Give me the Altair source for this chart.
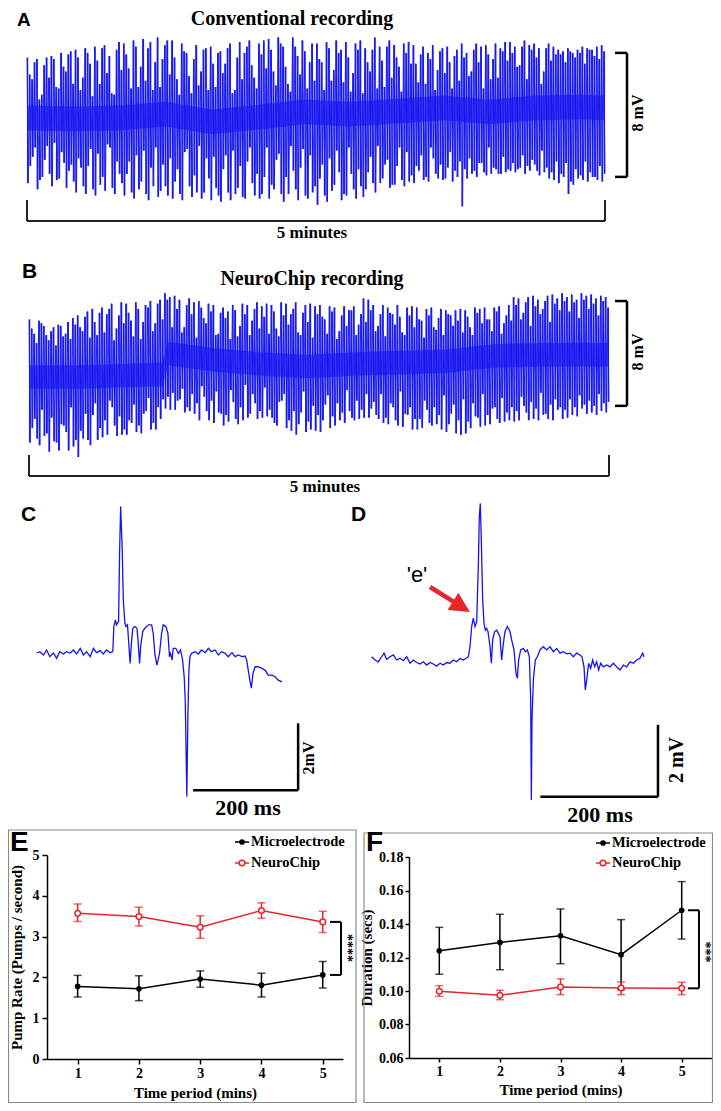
import altair as alt
import pandas as pd

OFF = 8  # page margin
SERIF = "Liberation Serif"
SANS = "Liberation Sans"
BLUE = "#1414f0"
RED = "#e8262a"

# ---------------- A: conventional recording (mV, spike extremes over 5 min) ----------------
# two interleaved sets of spikes, read left to right
a_top = [3.9, 2.5, 3.8, 1.5, 3.9, 4.0, 2.0, 4.2, 3.0, 4.3,
         4.4, 1.8, 4.5, 3.5, 4.6, 2.2, 4.7, 4.0, 1.5, 4.9,
         4.8, 3.2, 5.0, 2.0, 5.1, 4.5, 1.8, 5.2, 3.8, 5.0,
         5.0, 2.5, 4.8, 4.2, 1.6, 4.7, 3.0, 4.5, 4.6, 2.0,
         4.3, 3.5, 4.8, 1.8, 4.9, 4.2, 5.0, 2.6, 4.8, 5.0,
         5.1, 3.0, 5.2, 4.6, 2.2, 5.2, 4.0, 5.0, 1.9, 4.8,
         4.8, 3.6, 4.9, 2.4, 5.0, 4.4, 4.9, 1.7, 4.8, 5.0,
         4.5, 3.0, 5.2, 4.6, 2.0, 5.0, 4.7, 3.3, 4.8, 4.9,
         4.7, 2.3, 4.6, 4.2, 4.7, 3.1, 4.5, 4.6, 1.9, 4.4,
         4.8, 4.2, 3.0, 4.8, 4.6, 4.7, 2.5, 4.8, 4.5, 4.9,
         4.9, 4.6, 3.4, 5.0, 4.7, 4.8, 4.5, 3.0, 4.8, 4.6,
         4.4, 4.3, 4.5, 4.2, 4.4, 4.6, 4.5, 4.4, 4.6, 4.7]
a_bottom = [-4.2, -2.5, -4.6, -3.8, -1.8, -4.4, -4.0, -2.2, -4.5, -3.0,
            -4.8, -3.2, -4.9, -2.0, -5.0, -4.3, -4.7, -1.9, -4.9, -3.6,
            -5.0, -2.8, -5.2, -4.6, -2.1, -5.3, -4.4, -5.1, -3.0, -5.0,
            -5.2, -3.3, -5.3, -2.0, -5.1, -4.8, -5.2, -2.6, -5.3, -4.5,
            -5.4, -2.4, -5.3, -4.9, -3.1, -5.2, -1.9, -5.0, -5.2, -3.8,
            -5.2, -4.6, -2.3, -5.4, -4.9, -3.4, -5.3, -2.0, -5.2, -4.8,
            -5.6, -3.0, -5.4, -4.7, -2.1, -5.3, -5.0, -3.6, -5.2, -4.4,
            -4.6, -2.5, -4.8, -4.2, -3.0, -4.5, -4.3, -1.9, -4.4, -4.1,
            -4.2, -3.4, -4.0, -4.1, -2.6, -3.9, -4.0, -3.2, -4.1, -3.8,
            -5.7, -3.9, -3.6, -3.8, -2.9, -3.7, -3.6, -3.3, -3.6, -3.5,
            -3.4, -3.5, -3.2, -3.6, -3.4, -3.0, -3.7, -3.5, -3.9, -4.0,
            -4.2, -3.8, -4.9, -4.3, -3.9, -4.0, -4.1, -3.8, -4.0, -4.1]
a_top2 = [2.8, 3.6, 1.2, 3.4, 2.6, 3.8, 1.9, 3.3, 4.1, 2.2,
          3.9, 2.6, 4.2, 1.4, 3.7, 4.5, 2.9, 1.6, 4.4, 3.1,
          4.1, 1.9, 4.6, 3.3, 2.4, 4.9, 3.6, 2.0, 4.7, 2.8,
          3.9, 1.5, 4.3, 2.7, 3.8, 2.1, 4.4, 1.8, 3.5, 4.2,
          2.9, 4.5, 1.6, 3.9, 2.5, 4.6, 3.4, 1.9, 4.1, 3.2,
          4.4, 2.1, 4.8, 3.3, 1.7, 4.6, 2.8, 4.3, 3.6, 2.4,
          3.8, 1.8, 4.5, 3.1, 4.2, 2.3, 3.9, 2.9, 4.4, 1.6,
          3.6, 4.4, 1.9, 3.7, 4.6, 2.6, 3.9, 1.7, 4.2, 3.5,
          3.5, 4.1, 2.2, 3.8, 1.8, 4.3, 2.9, 3.6, 4.0, 2.4,
          3.9, 2.7, 4.4, 3.6, 1.9, 4.1, 3.8, 2.6, 4.3, 3.7,
          4.2, 3.3, 4.6, 2.5, 4.4, 3.9, 2.2, 4.5, 3.7, 4.1,
          4.1, 3.6, 4.3, 3.9, 4.2, 3.5, 4.4, 4.0, 3.8, 4.3]
a_bottom2 = [-3.1, -1.9, -4.0, -2.7, -3.6, -1.6, -3.9, -2.9, -3.4, -4.1,
             -2.6, -4.4, -3.1, -4.6, -2.3, -3.8, -1.7, -4.5, -2.8, -4.2,
             -3.6, -4.8, -2.4, -4.1, -4.9, -3.2, -1.9, -4.7, -4.4, -2.6,
             -4.1, -4.9, -2.2, -4.4, -3.7, -1.8, -4.8, -3.9, -2.5, -5.0,
             -3.3, -4.8, -2.1, -4.5, -5.1, -2.8, -4.2, -3.6, -4.9, -1.9,
             -4.3, -2.7, -4.9, -3.8, -1.8, -4.6, -3.2, -5.0, -2.4, -4.4,
             -3.9, -5.0, -2.6, -4.3, -3.5, -4.9, -1.9, -4.6, -3.3, -5.1,
             -3.5, -4.2, -1.8, -3.9, -2.7, -4.3, -3.1, -4.0, -2.2, -3.7,
             -3.1, -2.4, -3.8, -1.9, -3.6, -3.0, -3.9, -2.2, -3.4, -2.8,
             -3.3, -2.6, -3.4, -2.9, -3.5, -1.9, -3.2, -3.6, -2.5, -3.3,
             -2.9, -3.3, -2.4, -3.1, -2.7, -3.4, -2.1, -3.2, -3.5, -2.8,
             -3.6, -2.9, -4.1, -3.3, -3.7, -2.8, -3.5, -3.8, -3.1, -3.6]
a_core_t = [0, 0.4, 0.8, 1.2, 1.6, 2.0, 2.4, 2.8, 3.2, 3.6, 4.0, 4.4, 4.8, 5.0]
a_core_lo = [-0.8, -0.85, -0.8, -0.55, -1.05, -0.75, -0.4, -0.55, -0.35, -0.15, -0.4, -0.15, -0.1, -0.15]
a_core_hi = [0.8, 0.75, 0.8, 1.05, 0.55, 0.85, 1.2, 1.05, 1.25, 1.45, 1.2, 1.45, 1.5, 1.45]
a_bar_mv = [-3.8, 4.2]          # 8 mV calibration
a_span_min = [0, 5]              # 5 minutes

# ---------------- B: NeuroChip recording ----------------
b_top = [3.1, 2.0, 3.0, 2.6, 1.5, 2.5, 2.7, 1.8, 2.9, 3.2,
         3.4, 2.2, 3.7, 3.9, 1.9, 4.0, 3.5, 4.3, 2.4, 4.4,
         4.3, 3.0, 4.4, 1.6, 4.2, 4.5, 2.8, 4.6, 5.1, 4.8,
         4.9, 4.6, 2.5, 4.7, 4.4, 4.5, 3.2, 4.3, 4.2, 2.0,
         4.0, 3.7, 4.2, 1.8, 4.3, 4.2, 3.0, 4.4, 4.1, 4.3,
         4.2, 2.4, 4.4, 4.3, 3.5, 4.4, 1.9, 4.2, 4.3, 4.1,
         4.2, 3.1, 4.1, 4.0, 2.2, 4.1, 3.8, 4.1, 2.7, 4.7,
         4.6, 4.2, 2.6, 4.2, 4.0, 3.5, 4.2, 2.1, 4.0, 4.1,
         4.0, 3.0, 3.9, 4.0, 2.3, 3.9, 3.8, 3.4, 3.8, 3.9,
         3.8, 2.5, 4.0, 3.9, 4.0, 3.1, 4.0, 4.1, 2.8, 4.2,
         4.8, 4.7, 3.6, 4.8, 4.9, 4.6, 3.9, 4.9, 5.0, 4.7,
         5.1, 4.8, 5.0, 4.6, 5.1, 4.9, 5.0, 4.7, 4.9, 4.8]
b_bottom = [-6.3, -4.5, -6.5, -5.8, -7.0, -6.2, -6.9, -5.0, -6.9, -6.6,
            -7.4, -6.0, -6.1, -4.2, -6.1, -5.9, -5.7, -3.6, -5.8, -5.7,
            -5.7, -4.8, -5.5, -5.6, -3.9, -5.3, -5.3, -4.5, -3.7, -3.8,
            -3.8, -3.0, -4.0, -3.9, -4.1, -4.6, -2.8, -4.6, -4.8, -4.0,
            -5.0, -4.7, -3.2, -4.9, -4.6, -4.4, -2.6, -4.5, -4.4, -4.3,
            -4.4, -5.0, -3.1, -5.2, -5.4, -5.7, -4.0, -5.5, -5.3, -5.4,
            -5.5, -3.4, -5.2, -5.0, -4.6, -4.8, -3.9, -4.6, -4.5, -4.4,
            -4.4, -3.2, -4.5, -4.8, -4.9, -3.6, -5.0, -5.1, -4.2, -5.3,
            -5.3, -5.2, -3.8, -5.0, -4.9, -5.3, -5.5, -4.1, -5.6, -5.7,
            -5.6, -5.2, -4.3, -5.1, -5.0, -4.9, -3.6, -4.8, -4.7, -4.6,
            -4.7, -4.6, -3.5, -4.6, -4.5, -4.6, -4.2, -4.5, -4.6, -3.8,
            -4.5, -4.4, -4.2, -4.3, -3.7, -4.1, -4.0, -4.2, -3.9, -4.0]
b_top2 = [2.4, 1.3, 2.8, 1.9, 2.2, 1.1, 2.6, 2.0, 1.6, 2.7,
          2.5, 3.3, 1.7, 2.9, 3.6, 2.1, 3.9, 1.5, 3.4, 2.8,
          3.6, 1.8, 3.9, 2.9, 4.0, 2.2, 4.3, 3.1, 4.6, 2.5,
          3.9, 2.1, 4.2, 3.5, 1.7, 4.0, 2.8, 3.7, 1.9, 3.6,
          3.2, 1.6, 3.8, 2.6, 3.5, 1.9, 3.9, 2.4, 3.3, 2.0,
          3.7, 1.8, 3.4, 2.7, 3.9, 2.1, 3.6, 2.9, 1.7, 3.5,
          3.3, 2.0, 3.7, 1.6, 3.4, 2.6, 3.8, 1.9, 3.5, 2.9,
          3.8, 2.2, 3.5, 1.8, 3.6, 2.7, 3.3, 1.9, 3.4, 2.5,
          3.1, 1.7, 3.4, 2.5, 3.2, 1.9, 3.5, 2.6, 3.0, 2.1,
          3.3, 1.9, 3.6, 2.8, 3.1, 2.2, 3.7, 2.0, 3.4, 3.0,
          4.2, 3.1, 4.4, 2.6, 4.1, 3.5, 4.5, 2.9, 4.3, 3.8,
          4.5, 3.7, 4.4, 3.2, 4.6, 3.9, 4.3, 3.4, 4.5, 4.0]
b_bottom2 = [-5.2, -6.0, -3.8, -5.6, -4.4, -6.3, -4.9, -5.5, -3.6, -6.1,
             -5.4, -4.1, -6.5, -3.3, -5.2, -4.6, -3.1, -5.0, -4.3, -5.3,
             -4.6, -3.4, -5.0, -4.1, -2.9, -4.8, -3.6, -3.0, -2.8, -2.5,
             -3.1, -2.2, -3.6, -2.6, -3.3, -2.0, -3.9, -3.1, -2.4, -4.1,
             -4.2, -2.3, -4.5, -3.6, -1.9, -4.1, -3.3, -3.9, -2.1, -3.8,
             -4.8, -3.2, -2.6, -4.6, -3.9, -4.9, -2.4, -4.7, -3.5, -4.2,
             -4.6, -2.7, -4.3, -3.3, -4.0, -2.3, -4.4, -3.1, -3.8, -2.6,
             -3.7, -4.2, -2.6, -4.4, -3.3, -4.6, -2.4, -4.1, -3.6, -4.5,
             -4.5, -3.1, -4.8, -3.6, -4.2, -2.7, -4.9, -3.4, -4.6, -3.0,
             -4.7, -3.3, -4.4, -2.6, -4.2, -3.7, -4.5, -2.9, -4.0, -3.6,
             -3.9, -2.8, -4.0, -3.2, -3.7, -2.5, -4.1, -3.4, -3.0, -3.6,
             -3.8, -3.0, -3.6, -2.7, -3.4, -3.1, -3.5, -2.6, -3.3, -3.2]
b_core_t = [0, 0.4, 0.8, 1.15, 1.2, 1.6, 2.0, 2.4, 2.8, 3.2, 3.6, 4.0, 4.4, 4.8, 5.0]
b_core_lo = [-2.2, -2.2, -2.1, -2.0, -0.4, -0.9, -1.2, -1.4, -1.2, -1.1, -1.0, -0.6, -0.5, -0.5, -0.5]
b_core_hi = [-0.4, -0.4, -0.3, -0.2, 1.4, 0.9, 0.6, 0.4, 0.6, 0.7, 0.8, 1.2, 1.3, 1.3, 1.3]
b_bar_mv = [-3.5, 4.5]
b_span_min = [0, 5]

# ---------------- C: single pump, conventional (ms, mV) ----------------
c_ms = [0, 6, 13, 19, 25, 32, 38, 44, 51, 57, 64, 70, 76, 83, 89, 95, 102, 108, 114, 121,
        127, 133, 140, 145, 147, 150, 152, 156, 158, 160, 163, 165, 168, 170, 173, 175, 178, 180, 183, 187,
        191, 193, 196, 198, 202, 206, 213, 219, 222, 225, 229, 234, 238, 241, 246, 250, 253, 255, 258, 260,
        265, 270, 274, 278, 281, 283, 286, 288, 290, 292, 295, 302, 308, 314, 321, 327, 333, 340, 346, 352,
        359, 365, 372, 378, 384, 391, 397, 400, 403, 406, 409, 412, 416, 422, 429, 435, 441, 448, 454, 460, 467]
c_mv = [0.0, 0.04, -0.06, 0.09, -0.11, 0.0, -0.16, 0.04, -0.03, 0.04, 0.0, 0.09, -0.03, 0.14, -0.06, 0.04, -0.11, 0.14, 0.01, 0.07,
        -0.03, 0.09, 0.01, 0.04, 0.79, 0.99, 0.84, 0.94, 3.07, 4.37, 3.07, 1.58, 0.89, 0.79, 0.84, 0.39, -0.31, 0.19, 0.74, 0.79,
        0.74, 0.39, -0.31, 0.19, 0.64, 0.74, 0.84, 0.84, 0.59, -0.01, -0.36, -0.01, 0.59, 0.84, 0.79, 0.59, -0.11, -0.01, -0.21, 0.14,
        0.14, -0.01, 0.09, -0.21, -0.71, -1.40, -4.29, -1.90, -0.51, -0.11, -0.01, 0.04, -0.03, 0.09, 0.01, 0.14, 0.04, 0.09, -0.06, 0.04,
        -0.01, -0.11, 0.01, -0.11, -0.06, -0.11, -0.09, -0.21, -0.51, -0.81, -1.05, -0.61, -0.41, -0.41, -0.46, -0.51, -0.66, -0.66, -0.71, -0.81, -0.86]
c_bar_ms = [298, 498]   # 200 ms
c_bar_mv = [-4.1, -2.1]  # 2 mV

# ---------------- D: single pump, NeuroChip ----------------
d_ms = [0, 5.7, 11.3, 17, 21, 25.5, 31.2, 36.9, 42.5, 48.2, 53.9, 59.5, 65.2, 70.9, 76.5, 82.2, 87.9, 93.6, 99.2, 104.9,
        110.6, 116.2, 121.9, 127.6, 133.2, 138.9, 144.6, 150.3, 155.9, 160.5, 164.4, 167.3, 170.1, 172.9, 175.8, 178.6, 181.4, 183.1, 184.8, 186.5,
        188.8, 191.1, 193.3, 195.6, 197.9, 201.3, 203.6, 205.8, 209.2, 212.6, 215.5, 218.3, 221.1, 224, 226.8, 230.8, 235.3, 238.1, 242.1, 245.5,
        247.8, 250, 253.4, 258, 261.4, 264.8, 268.2, 270.5, 271.6, 272.7, 275, 278.4, 281.8, 286.3, 292, 297.7, 303.3, 309, 314.7, 320.4,
        326, 331.7, 337.4, 343, 348.7, 354.4, 357.8, 361.2, 363.4, 365.7, 369.1, 372.5, 375.9, 379.3, 382.7, 386.1, 389.5, 394.1, 399.7, 405.4,
        411.1, 416.7, 422.4, 428.1, 433.8, 439.4, 445.1, 450.8, 456.4, 461, 463.2]
d_mv = [0.09, 0, -0.05, 0.09, 0.19, 0.02, 0.09, 0.14, 0, 0.05, -0.02, 0.09, -0.09, 0, -0.07, -0.11, -0.05, -0.14, -0.07, -0.11,
        -0.17, -0.09, -0.14, -0.07, -0.09, 0, -0.05, 0.04, 0, 0.05, 0.09, 0.37, 0.93, 1.16, 0.93, 1.06, 2.59, 3.98, 4.35, 3.33,
        1.67, 1.02, 0.83, 0.88, 0.79, 0.37, -0.09, 0.56, 0.79, 0.83, 0.74, 0.65, 0, 0.46, 0.79, 0.93, 0.79, 0.56, 0.28, -0.37,
        -0.51, 0, 0.28, 0.32, 0.23, 0.28, 0.09, -1.11, -3.89, -1.67, -0.56, 0, 0.09, 0.28, 0.37, 0.28, 0.37, 0.23, 0.32, 0.19,
        0.23, 0.17, 0.19, 0.09, 0.19, 0.14, 0.09, -0.19, -0.83, -0.56, -0.09, -0.23, 0, -0.19, -0.05, -0.28, -0.09, -0.19, -0.14, -0.19,
        -0.09, -0.19, -0.28, -0.14, -0.19, -0.05, -0.09, 0, 0.05, 0.19, 0.09]
d_bar_ms = [287, 487]
d_bar_mv = [-3.8, -1.8]

# ---------------- E: pump rate ----------------
periods = [1, 2, 3, 4, 5]
e_micro_mean = [1.78, 1.72, 1.96, 1.81, 2.06]
e_micro_lo = [1.52, 1.43, 1.76, 1.52, 1.74]
e_micro_hi = [2.05, 2.04, 2.16, 2.10, 2.39]
e_neuro_mean = [3.57, 3.49, 3.23, 3.64, 3.36]
e_neuro_lo = [3.37, 3.26, 2.96, 3.45, 3.10]
e_neuro_hi = [3.80, 3.72, 3.51, 3.83, 3.62]

# ---------------- F: duration ----------------
f_micro_mean = [0.124, 0.129, 0.133, 0.1217, 0.1482]
f_micro_lo = [0.110, 0.1127, 0.1163, 0.1008, 0.131]
f_micro_hi = [0.138, 0.1458, 0.149, 0.1426, 0.1653]
f_neuro_mean = [0.0998, 0.0974, 0.1024, 0.1018, 0.1016]
f_neuro_lo = [0.0968, 0.0948, 0.0978, 0.0978, 0.0978]
f_neuro_hi = [0.1032, 0.1004, 0.1072, 0.1054, 0.1052]

ONE = pd.DataFrame({"k": [0]})
H = 1095


def interleave(a, b):
    out = []
    for p, q in zip(a, b):
        out += [p, q]
    return out


def zigzag(tops, bottoms):
    vals = []
    for hi, lo in zip(tops, bottoms):
        vals += [hi, lo]
    step = 5.0 / (len(vals) - 1)
    return pd.DataFrame({"t": [k * step for k in range(len(vals))], "v": vals})


def spikes(tops, bottoms):
    n = len(tops)
    step = 5.0 / (2 * n - 1)
    return pd.DataFrame({"t": [2 * i * step + step / 2 for i in range(n)], "v": tops, "v2": bottoms})


def txt(text, x, y, size, font=SERIF, weight="bold", angle=0, align="center", color="black"):
    return alt.Chart(ONE).mark_text(
        text=text, font=font, fontSize=size, fontWeight=weight, angle=angle,
        align=align, baseline="middle", color=color
    ).encode(x=alt.value(x - OFF), y=alt.value(y - OFF))


def hrule(x1, x2, y, color="black", w=2):
    return alt.Chart(ONE).mark_rule(color=color, strokeWidth=w).encode(
        x=alt.value(x1 - OFF), x2=alt.value(x2 - OFF), y=alt.value(y - OFF))


def sc(domain, rng):
    return alt.Scale(domain=domain, range=rng, nice=False, zero=False)


# ---------- trace panels (A, B) ----------
def long_trace(tops, bottoms, core_t, core_lo, core_hi, bar, span, xr, yd, yr, bar_x, span_y, span_top):
    X = alt.X("t:Q", scale=sc([0, 5], xr), axis=None)
    Y = alt.Y("v:Q", scale=sc(yd, yr), axis=None)
    zz = alt.Chart(zigzag(tops, bottoms)).mark_line(color=BLUE, strokeWidth=0.9, opacity=0.95).encode(x=X, y=Y)
    sp = alt.Chart(spikes(tops, bottoms)).mark_rule(color=BLUE, strokeWidth=1.3, opacity=0.95).encode(
        x=X, y=Y, y2="v2:Q")
    core = alt.Chart(pd.DataFrame({"t": core_t, "v": core_lo, "v2": core_hi})).mark_area(
        color=BLUE, opacity=0.6).encode(x=X, y=Y, y2="v2:Q")
    bar_df = pd.DataFrame({"v": [bar[0]], "v2": [bar[1]]})
    bar_v = alt.Chart(bar_df).mark_rule(color="black", strokeWidth=2.5).encode(
        x=alt.value(bar_x - OFF), y=Y, y2="v2:Q")
    bar_t = alt.Chart(pd.DataFrame({"v": bar})).mark_rule(color="black", strokeWidth=2.5).encode(
        x=alt.value(bar_x - 12 - OFF), x2=alt.value(bar_x - OFF), y=Y)
    sp_h = alt.Chart(pd.DataFrame({"t": [span[0]], "t2": [span[1]]})).mark_rule(
        color="#222", strokeWidth=2).encode(x=X, x2="t2:Q", y=alt.value(span_y - OFF))
    sp_v = alt.Chart(pd.DataFrame({"t": span})).mark_rule(color="#222", strokeWidth=2).encode(
        x=X, y=alt.value(span_top - OFF), y2=alt.value(span_y - OFF))
    return alt.layer(core, sp, zz, bar_v, bar_t, sp_h, sp_v)


panel_a = long_trace(interleave(a_top, a_top2), interleave(a_bottom, a_bottom2),
                     a_core_t, a_core_lo, a_core_hi, a_bar_mv, a_span_min,
                     [27 - OFF, 605 - OFF], [-6, 6], [118 - OFF + 93, 118 - OFF - 93], 627, 221, 200)
panel_b = long_trace(interleave(b_top, b_top2), interleave(b_bottom, b_bottom2),
                     b_core_t, b_core_lo, b_core_hi, b_bar_mv, b_span_min,
                     [29 - OFF, 609 - OFF], [-8, 6], [360 - OFF + 104.8, 360 - OFF - 78.6], 627, 476, 455)


# ---------- single pump panels (C, D) ----------
def pump_trace(ms, mv, bar_ms, bar_mv, xr, yr):
    X = alt.X("t:Q", scale=sc([0, 500], xr), axis=None)
    Y = alt.Y("v:Q", scale=sc([-5, 5], yr), axis=None)
    line = alt.Chart(pd.DataFrame({"t": ms, "v": mv})).mark_line(
        color=BLUE, strokeWidth=1.3).encode(x=X, y=Y)
    hb = alt.Chart(pd.DataFrame({"t": [bar_ms[0]], "t2": [bar_ms[1]], "v": [bar_mv[0]]})).mark_rule(
        color="black", strokeWidth=2.5).encode(x=X, x2="t2:Q", y=Y)
    vb = alt.Chart(pd.DataFrame({"t": [bar_ms[1]], "v": [bar_mv[0]], "v2": [bar_mv[1]]})).mark_rule(
        color="black", strokeWidth=2.5).encode(x=X, y=Y, y2="v2:Q")
    return alt.layer(line, hb, vb)


panel_c = pump_trace(c_ms, c_mv, c_bar_ms, c_bar_mv,
                     [36.67 - OFF, 36.67 + 262.5 - OFF], [653 - OFF + 167.5, 653 - OFF - 167.5])
panel_d = pump_trace(d_ms, d_mv, d_bar_ms, d_bar_mv,
                     [371.67 - OFF, 371.67 + 293.95 - OFF], [660 - OFF + 180, 660 - OFF - 180])


# ---------- statistics panels (E, F): every layer a direct child ----------
def axis_common(**kw):
    base = dict(grid=False, domainColor="black", domainWidth=1.5, tickColor="black", tickWidth=1.5,
                labelFont=SERIF, labelFontWeight="bold", labelFontSize=14, labelColor="black",
                titleFont=SERIF, titleFontWeight="bold", titleFontSize=15, titleColor="black")
    base.update(kw)
    return alt.Axis(**base)


def stats_layers(series, xd, xr, yd, yr, xaxis, yaxis):
    out = []
    for idx, (mean, lo, hi, color, filled) in enumerate(series):
        df = pd.DataFrame({"time": periods, "mean": mean, "lo": lo, "hi": hi})
        base = alt.Chart(df)
        Xn = alt.X("time:Q", scale=sc(xd, xr), axis=None)
        if idx == 0:
            out.append(base.mark_line(color=color, strokeWidth=1.5).encode(
                x=alt.X("time:Q", scale=sc(xd, xr), axis=xaxis),
                y=alt.Y("mean:Q", scale=sc(yd, yr), axis=yaxis)))
        else:
            out.append(base.mark_line(color=color, strokeWidth=1.5).encode(
                x=Xn, y=alt.Y("mean:Q", scale=sc(yd, yr), axis=None)))
        out.append(base.mark_rule(color=color, strokeWidth=1.5).encode(
            x=Xn, y=alt.Y("lo:Q", scale=sc(yd, yr), axis=None),
            y2=alt.Y2("hi:Q")))
        for f in ["lo", "hi"]:
            out.append(base.mark_tick(color=color, orient="horizontal", size=8, thickness=1.5).encode(
                x=Xn, y=alt.Y(f + ":Q", scale=sc(yd, yr), axis=None)))
        if filled:
            pm = base.mark_point(shape="circle", filled=True, color=color, size=32, opacity=1)
        else:
            pm = base.mark_point(shape="circle", filled=True, fill="white", stroke=color,
                                 strokeWidth=1.5, size=32, opacity=1)
        out.append(pm.encode(x=Xn, y=alt.Y("mean:Q", scale=sc(yd, yr), axis=None)))
    return out


def sig_bracket(v_top, v_bot, yd, yr, x1, x2):
    v = alt.Chart(pd.DataFrame({"v": [v_top], "v2": [v_bot]})).mark_rule(
        color="black", strokeWidth=2).encode(
        x=alt.value(x2 - OFF), y=alt.Y("v:Q", scale=sc(yd, yr), axis=None), y2="v2:Q")
    h = alt.Chart(pd.DataFrame({"v": [v_top, v_bot]})).mark_rule(
        color="black", strokeWidth=2).encode(
        x=alt.value(x1 - OFF), x2=alt.value(x2 - OFF), y=alt.Y("v:Q", scale=sc(yd, yr), axis=None))
    return [v, h]


e_xaxis = axis_common(values=periods, orient="bottom", offset=(1059 - OFF) - H, tickSize=5,
                      labelPadding=2, title="Time period (mins)", titlePadding=5)
e_yaxis = axis_common(values=[0, 1, 2, 3, 4, 5], orient="left", offset=-(47 - OFF), tickSize=5,
                      labelPadding=3, title="Pump Rate (Pumps / second)", titlePadding=8)
E_YD, E_YR = [0, 5], [1059 - OFF, 855 - OFF]
e_layers = stats_layers(
    [(e_micro_mean, e_micro_lo, e_micro_hi, "black", True),
     (e_neuro_mean, e_neuro_lo, e_neuro_hi, RED, False)],
    [0.5, 5.33], [47 - OFF, 343 - OFF], E_YD, E_YR, e_xaxis, e_yaxis
) + sig_bracket(e_neuro_mean[4], e_micro_mean[4], E_YD, E_YR, 330, 341)

f_xaxis = axis_common(values=periods, orient="bottom", offset=(1058 - OFF) - H, tickSize=4,
                      labelPadding=2, title="Time period (mins)", titlePadding=4)
f_yaxis = axis_common(values=[0.06, 0.08, 0.10, 0.12, 0.14, 0.16, 0.18], format=".2f", orient="left",
                      offset=-(409 - OFF), tickSize=4, labelPadding=2,
                      title="Duration (secs)", titlePadding=4)
F_YD, F_YR = [0.06, 0.18], [1058 - OFF, 857 - OFF]
f_layers = stats_layers(
    [(f_micro_mean, f_micro_lo, f_micro_hi, "black", True),
     (f_neuro_mean, f_neuro_lo, f_neuro_hi, RED, False)],
    [0.5, 5.5], [409 - OFF, 712 - OFF], F_YD, F_YR, f_xaxis, f_yaxis
) + sig_bracket(f_micro_mean[4], f_neuro_mean[4], F_YD, F_YR, 688, 699)


def box(x1, y1, x2, y2):
    return alt.Chart(ONE).mark_rect(fillOpacity=0, stroke="#8a8a8a", strokeWidth=1.2).encode(
        x=alt.value(x1 - OFF), x2=alt.value(x2 - OFF), y=alt.value(y1 - OFF), y2=alt.value(y2 - OFF))


def legend_entry(x, y, label, color, filled):
    line = hrule(x - 7, x + 7, y, color=color, w=1.5)
    if filled:
        pt = alt.Chart(ONE).mark_point(shape="circle", filled=True, color=color, size=32, opacity=1)
    else:
        pt = alt.Chart(ONE).mark_point(shape="circle", filled=True, fill="white", stroke=color,
                                       strokeWidth=1.5, size=32, opacity=1)
    pt = pt.encode(x=alt.value(x - OFF), y=alt.value(y - OFF))
    t = txt(label, x + 9, y, 14.5, align="left")
    return [line, pt, t]


# red arrow in D
ARROW = "M-1,-0.1L0.15,-0.1L0.15,-0.43L1,0L0.15,0.43L0.15,0.1L-1,0.1Z"
arrow = alt.Chart(ONE).mark_point(shape=ARROW, filled=True, fill=RED, strokeWidth=0, size=2209,
                                  angle=32, opacity=1).encode(x=alt.value(450 - OFF), y=alt.value(599.5 - OFF))

layers = [box(8.5, 830, 356, 1102.5), box(364, 833, 712.5, 1102.5)]
layers += e_layers + f_layers
layers += [
    panel_a, panel_b, panel_c, panel_d, arrow,
    txt("A", 17, 20, 19, font=SANS, align="left"),
    txt("Conventional recording", 292, 19, 20),
    txt("8 mV", 638, 113, 16, angle=270),
    txt("5 minutes", 312, 233, 17),
    txt("B", 22, 272, 21, font=SANS, align="left"),
    txt("NeuroChip recording", 312, 279, 20),
    txt("8 mV", 638, 352, 16, angle=270),
    txt("5 minutes", 325, 487, 17),
    txt("C", 21, 515, 21, font=SANS, align="left"),
    txt("D", 351, 515, 21, font=SANS, align="left"),
    txt("2mV", 309, 758, 16, angle=270),
    txt("200 ms", 248, 808, 22),
    txt("2 mV", 677, 760, 20, angle=270),
    txt("200 ms", 600, 815, 22),
    txt("'e'", 417, 575, 22, font=SANS, weight="normal"),
    txt("E", 10, 843, 28, font=SANS, align="left"),
    txt("F", 366, 843, 28, font=SANS, align="left"),
    txt("****", 347, 948, 14, angle=90),
    txt("***", 705, 952, 14, angle=90),
]
layers += legend_entry(242, 842, "Microelectrode", "black", True)
layers += legend_entry(242, 863, "NeuroChip", RED, False)
layers += legend_entry(603, 843, "Microelectrode", "black", True)
layers += legend_entry(603, 863, "NeuroChip", RED, False)

chart = alt.layer(*layers).resolve_scale(x="independent", y="independent").properties(
    width=705, height=H, padding=0, autosize=alt.AutoSizeParams(type="none"),
    background="white"
).configure_view(stroke=None)

chart.save("out.html", embed_options={"renderer": "svg", "actions": False})
